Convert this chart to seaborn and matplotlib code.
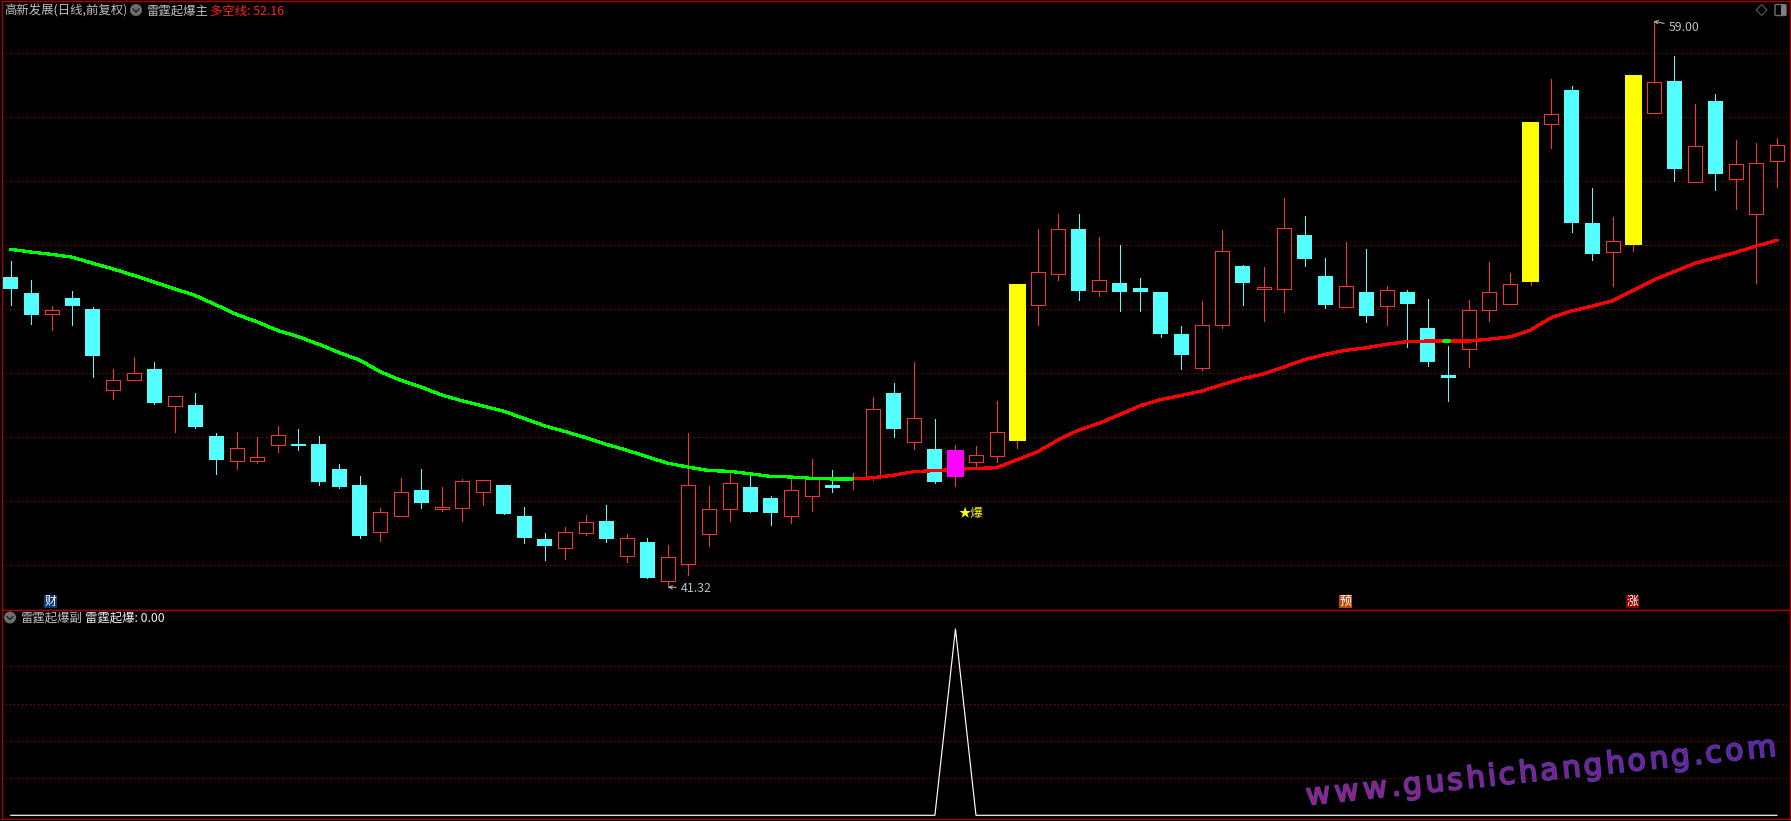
import matplotlib
matplotlib.use("Agg")
import matplotlib.pyplot as plt
import matplotlib.patheffects as pe
from matplotlib.patches import Circle, Polygon, FancyBboxPatch, Rectangle
from matplotlib.textpath import TextPath
from matplotlib.font_manager import FontProperties
from matplotlib.colors import to_rgb
import numpy as np
import pandas as pd
import seaborn as sns

candle_high = [51.51,50.92,50.10,50.57,50.07,48.14,48.51,48.35,47.28,47.38,46.14,46.17,46.01,46.35,46.26,46.04,45.17,44.79,43.79,44.73,
               45.01,44.45,44.70,44.66,44.51,43.82,43.01,43.20,43.57,43.89,42.98,42.85,42.64,46.14,44.48,44.95,44.89,44.17,44.73,45.32,
               44.98,44.89,47.26,47.70,48.35,46.57,45.76,45.73,47.14,50.79,52.51,52.98,52.98,52.26,52.01,50.98,50.54,49.48,50.26,52.48,
               51.39,51.32,53.48,52.92,51.60,52.10,51.89,50.73,50.60,50.32,48.85,50.29,51.48,51.13,55.85,57.20,56.98,53.79,52.89,57.32,
               59.00,57.92,56.42,56.73,55.29,55.20,55.35]
candle_top = [51.01,50.51,49.98,50.35,50.01,47.78,48.00,48.14,47.28,47.01,46.04,45.66,45.38,46.06,45.79,45.79,45.01,44.51,43.66,44.28,
              44.35,43.82,44.63,44.66,44.51,43.54,42.82,43.03,43.34,43.39,42.84,42.73,42.25,44.50,43.75,44.56,44.45,44.10,44.34,44.74,
              44.51,44.75,46.88,47.39,46.59,45.64,45.60,45.44,46.16,50.79,51.16,52.50,52.51,50.91,50.82,50.67,50.54,49.23,49.50,51.81,
              51.35,50.69,52.53,52.32,51.04,50.72,50.54,50.59,50.54,49.42,47.95,49.97,50.53,50.78,55.85,56.09,56.85,52.70,52.13,57.32,
              57.09,57.14,55.09,56.51,54.53,54.56,55.13]
candle_bottom = [50.65,49.82,49.86,50.10,48.54,47.49,47.80,47.08,46.99,46.32,45.29,45.27,45.27,45.77,45.73,44.60,44.45,42.92,43.05,43.55,
                 43.95,43.77,43.80,44.30,43.60,42.85,42.60,42.55,43.02,42.82,42.30,41.60,41.50,42.05,42.99,43.77,43.67,43.64,43.55,44.18,
                 44.42,44.69,44.72,46.26,45.86,44.60,44.76,45.24,45.43,45.89,50.15,51.11,50.57,50.58,50.54,50.54,49.23,48.57,48.18,49.52,
                 50.82,50.63,50.65,51.57,50.14,50.08,49.79,50.11,50.17,48.35,47.85,48.77,49.99,50.18,50.85,55.80,52.70,51.73,51.80,52.01,
                 56.15,54.39,53.99,54.23,54.08,52.99,54.65]
candle_low = [50.14,49.55,49.36,49.51,47.89,47.20,47.80,47.04,46.17,46.29,44.85,45.01,45.20,45.54,45.60,44.51,44.42,42.85,42.76,43.55,
              43.79,43.70,43.39,43.89,43.60,42.70,42.17,42.20,42.95,42.73,42.10,41.60,41.32,41.70,42.60,43.39,43.67,43.26,43.32,43.70,
              44.29,44.39,44.67,46.01,45.64,44.57,44.48,45.02,45.23,45.67,49.51,50.92,50.29,50.42,49.95,49.95,49.14,48.14,48.10,49.42,
              50.14,49.64,49.92,51.35,50.05,50.08,49.60,49.51,48.82,48.23,47.14,48.20,49.64,50.18,50.76,55.04,52.42,51.54,50.73,51.82,
              56.15,54.01,53.99,53.73,53.14,50.82,53.82]
# u = rising (hollow red), d = falling (cyan), y = yellow signal, m = magenta signal
candle_kind = list("ddudduudud" "duuudddduu" "duuuddduud" "uduuuudduu" "duududmuuy"
                   "uududddduu" "duuddududd" "duuuyudduy" "ududuuu")
ma_line = [51.875,51.79,51.72,51.63,51.44,51.26,51.06,50.85,50.64,50.43,50.14,49.84,49.61,49.34,49.15,48.91,48.65,48.41,48.05,47.78,
           47.57,47.32,47.14,46.98,46.82,46.59,46.36,46.18,45.99,45.78,45.60,45.39,45.19,45.07,44.96,44.94,44.86,44.78,44.76,44.72,
           44.70,44.70,44.74,44.82,44.93,44.96,45.00,45.03,45.05,45.30,45.55,45.92,46.23,46.44,46.71,46.99,47.18,47.31,47.45,47.65,
           47.84,47.98,48.20,48.43,48.59,48.72,48.80,48.91,48.99,49.01,49.01,49.01,49.07,49.14,49.35,49.74,49.95,50.10,50.27,50.60,
           50.92,51.18,51.44,51.61,51.78,51.98,52.16]
ma_switch_day = 41
ma_blip_days = [69.8, 70.05]
ma_blip_value = [49.01, 49.01]
price_grid = [42,44,46,48,50,52,54,56,58]
signal_grid = [0.2,0.4,0.6,0.8]
signal_days = [0,45,46,47,86]
signal_values = [0,0,1,0,0]

W, H = 1791, 821
BG = "#000000"
BORDER = "#A80000"
GRID = "#B00000"
RED = "#FF3232"
CYAN = "#54FFFF"
GRAY = "#BEBEBE"
PX = 72/100

sns.set_theme(style="dark", rc={"axes.facecolor": BG, "figure.facecolor": BG, "savefig.facecolor": BG})
FONT = ["Noto Sans CJK SC", "DejaVu Sans"]
plt.rcParams["font.family"] = FONT

fig = plt.figure(figsize=(W/100, H/100), dpi=100)

def rect(x0, y0, x1, y1):
    return [x0/W, 1-y1/H, (x1-x0)/W, (y1-y0)/H]

x_to_day = lambda px: (px-10.6)/20.54
ax = fig.add_axes(rect(2, 1.5, 1789.5, 609.5))
ax2 = fig.add_axes(rect(2, 609.5, 1789.5, 819))
for a in (ax, ax2):
    a.set_facecolor(BG)
    a.set_xlim(x_to_day(2), x_to_day(1789.5))
    for s in a.spines.values():
        s.set_color(BORDER); s.set_linewidth(1.4*PX); s.set_visible(True)
    a.set_xticks([])
    a.grid(False)

ax.set_ylim(40.62, 59.62)
ax2.set_ylim(-0.0199, 1.1047)

def style_grid(a, ticks):
    a.set_yticks(ticks)
    a.set_yticklabels([])
    a.tick_params(axis="y", left=False, right=True, length=1.5, width=PX, color=BORDER)
    for t in ticks:
        a.axhline(t, color=GRID, lw=PX, ls=(0, (1, 3.5)), zorder=0.5, antialiased=False)

style_grid(ax, price_grid)
style_grid(ax2, signal_grid)

df = pd.DataFrame({"high": candle_high, "top": candle_top, "bottom": candle_bottom,
                   "low": candle_low, "kind": candle_kind, "ma": ma_line})
df["day"] = df.index
assert len(df) == 87

wick_colors = {"u": RED, "d": CYAN, "y": RED, "m": RED}
for k, sub in df.groupby("kind"):
    ax.vlines(sub["day"], sub["low"], sub["high"], color=wick_colors[k], lw=PX*0.8, zorder=2, antialiased=False)

up = df[df.kind == "u"]
ax.bar(up["day"], up["top"]-up["bottom"], bottom=up["bottom"], width=14/20.54,
       facecolor=BG, edgecolor=RED, linewidth=PX*0.8, zorder=3, antialiased=False)
dn = df[df.kind == "d"]
ax.bar(dn["day"], dn["top"]-dn["bottom"], bottom=dn["bottom"], width=15/20.54,
       color=CYAN, linewidth=0, zorder=3, antialiased=False)
ye = df[df.kind == "y"]
ax.bar(ye["day"], ye["top"]-ye["bottom"], bottom=ye["bottom"], width=17/20.54,
       color="#FFFF00", linewidth=0, zorder=3, antialiased=False)
ma = df[df.kind == "m"]
ax.bar(ma["day"], ma["top"]-ma["bottom"], bottom=ma["bottom"], width=17/20.54,
       color="#FF00FF", linewidth=0, zorder=5, antialiased=False)

line_kw = dict(estimator=None, errorbar=None, linewidth=1.6, zorder=4, ax=ax, legend=False, antialiased=False)
g = df[df.day <= ma_switch_day]
r = df[df.day >= ma_switch_day]
sns.lineplot(x=r["day"], y=r["ma"], color="#FF0000", **line_kw)
sns.lineplot(x=g["day"], y=g["ma"], color="#00FF00", **line_kw)
sns.lineplot(x=ma_blip_days, y=ma_blip_value, color="#00FF00", **line_kw)

sns.lineplot(x=signal_days, y=signal_values, color="#FFFFFF", estimator=None, errorbar=None,
             linewidth=0.85, ax=ax2, legend=False, zorder=3, solid_joinstyle="round")

for a in (ax, ax2):
    a.set_xlabel(""); a.set_ylabel("")

# extreme-value annotations
ann = dict(fontsize=8.9, color=GRAY, va="center", ha="left", annotation_clip=False)
ax.annotate("41.32", xy=(32, 41.32), xytext=(13*PX, -1*PX), textcoords="offset points",
            arrowprops=dict(arrowstyle="->", color=GRAY, lw=PX, shrinkA=1, shrinkB=0, mutation_scale=6), **ann)
ax.annotate("59.00", xy=(80, 59.0), xytext=(15*PX, -6*PX), textcoords="offset points",
            arrowprops=dict(arrowstyle="->", color=GRAY, lw=PX, shrinkA=1, shrinkB=0, mutation_scale=6), **ann)

def txt(x, y, s, color=GRAY, size=8.9, **kw):
    return fig.text(x/W, 1-y/H, s, color=color, fontsize=size, va="center", ha=kw.pop("ha", "left"), **kw)

txt(4.5, 11, "高新发展(日线,前复权)")
txt(146, 11, "雷霆起爆主")
txt(210, 11, "多空线: 52.16", color="#FF2020")
txt(20, 618, "雷霆起爆副")
txt(85, 618, "雷霆起爆: 0.00", color="#F0F0F0")
txt(959, 513, "★爆", color="#FFFF00")

def icon(cx, cy):
    aspect = dict(transform=fig.dpi_scale_trans)
    fig.add_artist(Circle((cx/100, (H-cy)/100), 6/100, facecolor="#6E6E6E", edgecolor="none", **aspect))
    xs = np.array([cx-3, cx, cx+3])/100
    ys = (H-np.array([cy-1, cy+2, cy-1]))/100
    fig.add_artist(plt.Line2D(xs, ys, color="#202020", lw=1.0, transform=fig.dpi_scale_trans))

icon(136, 10)
icon(10, 617.5)

def badge(x0, y0, x1, y1, ch, bg):
    fig.add_artist(Rectangle((x0/W, 1-y1/H), (x1-x0)/W, (y1-y0)/H, facecolor=bg, edgecolor="none",
                             transform=fig.transFigure))
    txt((x0+x1)/2, (y0+y1)/2, ch, color="#FFFFFF", size=8.6, ha="center")

badge(44, 595, 57, 608, "财", "#0A3A70")
badge(1339, 595, 1352, 608, "预", "#B84A10")
badge(1626, 595, 1639, 608, "涨", "#8C0000")

# top-right window icons
dx, dy = 1761.6, 10
fig.add_artist(Polygon(np.array([[dx-5.5, dy], [dx, dy-5.5], [dx+5.5, dy], [dx, dy+5.5]])/[W, -H]+[0, 1],
                       closed=True, fill=False, edgecolor="#5A5A5A", lw=0.8, transform=fig.transFigure))
fig.add_artist(FancyBboxPatch((1775/W, 1-15.5/H), 11/W, 11/H, boxstyle="round,pad=0,rounding_size=0.001",
                              facecolor="#000000", edgecolor="#707070", lw=1.0, transform=fig.transFigure))
fig.add_artist(Rectangle((1781/W, 1-15/H), 4.5/W, 10/H, facecolor="#808080", edgecolor="none", transform=fig.transFigure))

# watermark: letter-spaced, placed character by character along a slanted baseline
WM_TEXT = "www.gushichanghong.com"
wm_size, wm_rot, wm_track = 21.5, 6.0, 1.6
wm_left, wm_right = np.array(to_rgb("#A01E78")), np.array(to_rgb("#6A1E9A"))
fp = FontProperties(family="DejaVu Sans", size=wm_size)
cx, cy = 1307.0, 805.0
cosr, sinr = np.cos(np.radians(wm_rot)), np.sin(np.radians(wm_rot))
for n, ch in enumerate(WM_TEXT):
    col = wm_left + (wm_right-wm_left)*n/(len(WM_TEXT)-1)
    t = fig.text(cx/W, 1-cy/H, ch, color=tuple(col), fontsize=wm_size, family="DejaVu Sans",
                 rotation=wm_rot, rotation_mode="anchor", ha="left", va="baseline", zorder=10)
    t.set_path_effects([pe.withStroke(linewidth=1.3, foreground="#4646B0")])
    w = TextPath((0, 0), ch + "|", prop=fp).get_extents().width - TextPath((0, 0), "|", prop=fp).get_extents().width
    adv = w * 100/72 + wm_track
    cx += adv*cosr
    cy -= adv*sinr

fig.savefig("out.png", dpi=100, facecolor=BG)
